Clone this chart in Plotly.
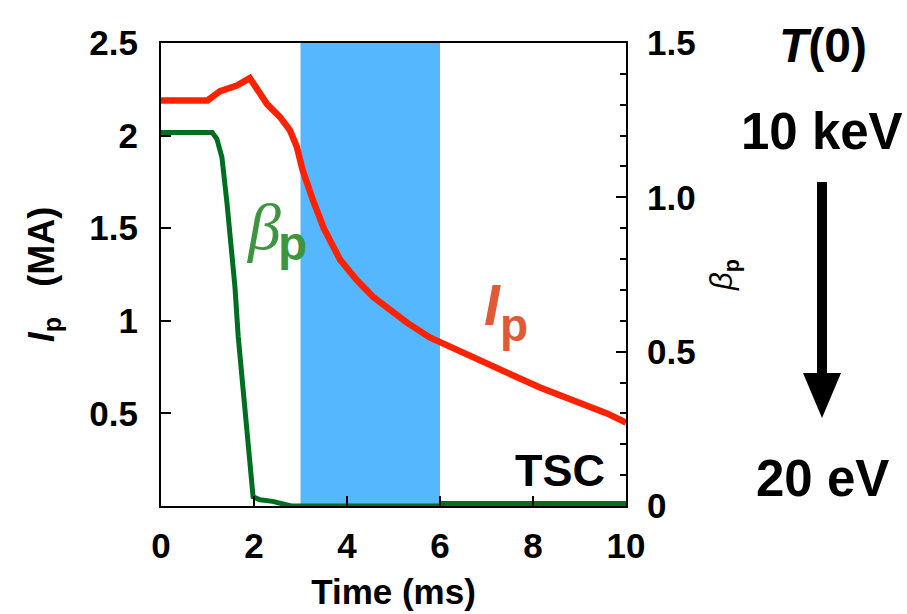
import plotly.graph_objects as go

# ---- data ----
t_ip = [0, 1.0, 1.27, 1.63, 1.91, 2.13, 2.28, 2.56, 2.77, 2.92, 3.05, 3.27, 3.5,
        3.85, 4.21, 4.56, 4.92, 5.29, 5.78, 6.0, 6.71, 7.44, 8.15, 8.86, 9.59, 10.0]
ip_ma = [2.19, 2.19, 2.24, 2.27, 2.31, 2.23, 2.17, 2.10, 2.03, 1.94, 1.81, 1.65, 1.50,
         1.33, 1.22, 1.13, 1.06, 0.99, 0.91, 0.886, 0.80, 0.72, 0.64, 0.57, 0.50, 0.45]

t_beta = [0, 1.10, 1.2, 1.31, 1.42, 1.53, 1.59, 1.66, 1.76, 1.85, 1.91, 1.98,
          2.13, 2.4, 2.8, 6.0, 6.05, 10.0]
beta_p = [1.21, 1.21, 1.19, 1.13, 0.98, 0.82, 0.71, 0.55, 0.38, 0.22, 0.11, 0.03,
          0.02, 0.015, 0.0, 0.0, 0.008, 0.008]

band_t = [3.0, 6.0]

x_ticks = [0, 2, 4, 6, 8, 10]
y_ticks = [0.5, 1, 1.5, 2, 2.5]
y_ticktext = ["0.5", "1", "1.5", "2", "2.5"]
y2_ticks = [0, 0.5, 1.0, 1.5]
y2_ticktext = ["0", "0.5", "1.0", "1.5"]

# ---- layout geometry (pixels) ----
W, H = 907, 614
L, R, T, B = 161, 626, 43, 506


def px(x):
    return (x - L) / (R - L)


def py(y):
    return (B - y) / (B - T)


RED = "#ff2200"
GREEN = "#006e20"
FONT = "Liberation Sans"

fig = go.Figure()
fig.add_trace(go.Scatter(x=t_ip, y=ip_ma, mode="lines",
                         line=dict(color=RED, width=6.5), yaxis="y", showlegend=False))
fig.add_trace(go.Scatter(x=t_beta, y=beta_p, mode="lines",
                         line=dict(color=GREEN, width=5), yaxis="y2", showlegend=False,
                         cliponaxis=False))

fig.add_shape(type="rect", xref="x", yref="paper", x0=band_t[0], x1=band_t[1],
              y0=0, y1=1, fillcolor="#55b8ff", line_width=0, layer="below")

# arrow on the right
fig.add_shape(type="rect", xref="paper", yref="paper",
              x0=px(817), x1=px(827), y0=py(376), y1=py(182),
              fillcolor="black", line_width=0)
fig.add_shape(type="path", xref="paper", yref="paper",
              path=f"M {px(803)} {py(373)} L {px(841)} {py(373)} L {px(822)} {py(418)} Z",
              fillcolor="black", line_width=0)

ann = []
ann.append(dict(text="<b><i>T</i>(0)</b>", x=px(823), y=py(45), font=dict(size=48, family=FONT, color="black")))
ann.append(dict(text="<b>10 keV</b>", x=px(822), y=py(131), font=dict(size=51, family=FONT, color="black")))
ann.append(dict(text="<b>20 eV</b>", x=px(822), y=py(478), font=dict(size=51, family=FONT, color="black")))
ann.append(dict(text="<b>TSC</b>", x=px(560), y=py(470), font=dict(size=45, family=FONT, color="black")))
ann.append(dict(text="<i>β</i>", x=px(263), y=py(226), font=dict(size=66, family="Liberation Serif", color="#3c9640")))
ann.append(dict(text="<b>p</b>", x=px(292), y=py(243), font=dict(size=48, family=FONT, color="#3c9640")))
ann.append(dict(text="<b><i>I</i></b>", x=px(492), y=py(305), font=dict(size=57, family=FONT, color="#e05a36")))
ann.append(dict(text="<b>p</b>", x=px(514), y=py(325), font=dict(size=46, family=FONT, color="#e05a36")))
for a in ann:
    a.update(xref="paper", yref="paper", showarrow=False, xanchor="center", yanchor="middle")

fig.update_layout(
    width=W, height=H,
    margin=dict(l=L, r=W - R, t=T, b=H - B),
    paper_bgcolor="white", plot_bgcolor="white",
    annotations=ann,
    xaxis=dict(range=[0, 10], tickvals=x_ticks, ticks="inside", ticklen=10, tickwidth=1.5,
               tickcolor="black", showline=True, linecolor="black", linewidth=2, mirror=True,
               showgrid=False, zeroline=False, automargin=False,
               tickfont=dict(family=FONT, size=35, weight="bold", color="black"),
               ticklabelstandoff=8,
               title=dict(text="<b>Time (ms)</b>", standoff=15,
                          font=dict(family=FONT, size=35, color="black"))),
    yaxis=dict(range=[0, 2.5], tickvals=y_ticks, ticktext=y_ticktext, ticks="inside",
               ticklen=10, tickwidth=1.5, tickcolor="black", showline=True, linecolor="black",
               linewidth=2, showgrid=False, zeroline=False, automargin=False,
               tickfont=dict(family=FONT, size=35, weight="bold", color="black"),
               ticklabelstandoff=14,
               title=dict(text="<b><i>I</i><sub>p</sub>   (MA)</b>",
                          standoff=24, font=dict(family=FONT, size=36, color="black"))),
    yaxis2=dict(range=[0, 1.5], overlaying="y", side="right", tickvals=y2_ticks,
                ticktext=y2_ticktext, ticks="inside", ticklen=10, tickwidth=1.5,
                tickcolor="black", showline=True, linecolor="black", linewidth=2,
                showgrid=False, zeroline=False, automargin=False,
                minor=dict(dtick=0.1, ticks="inside", ticklen=6, tickwidth=1.5, tickcolor="black"),
                tickfont=dict(family=FONT, size=35, weight="bold", color="black"),
                ticklabelstandoff=12,
                title=dict(text="<i>β</i><sub><b>p</b></sub>", standoff=16,
                           font=dict(family=FONT, size=31, color="black"))),
)

fig.write_html("out.html", config={"displayModeBar": False},
               post_script="document.body.style.margin='0px';")
